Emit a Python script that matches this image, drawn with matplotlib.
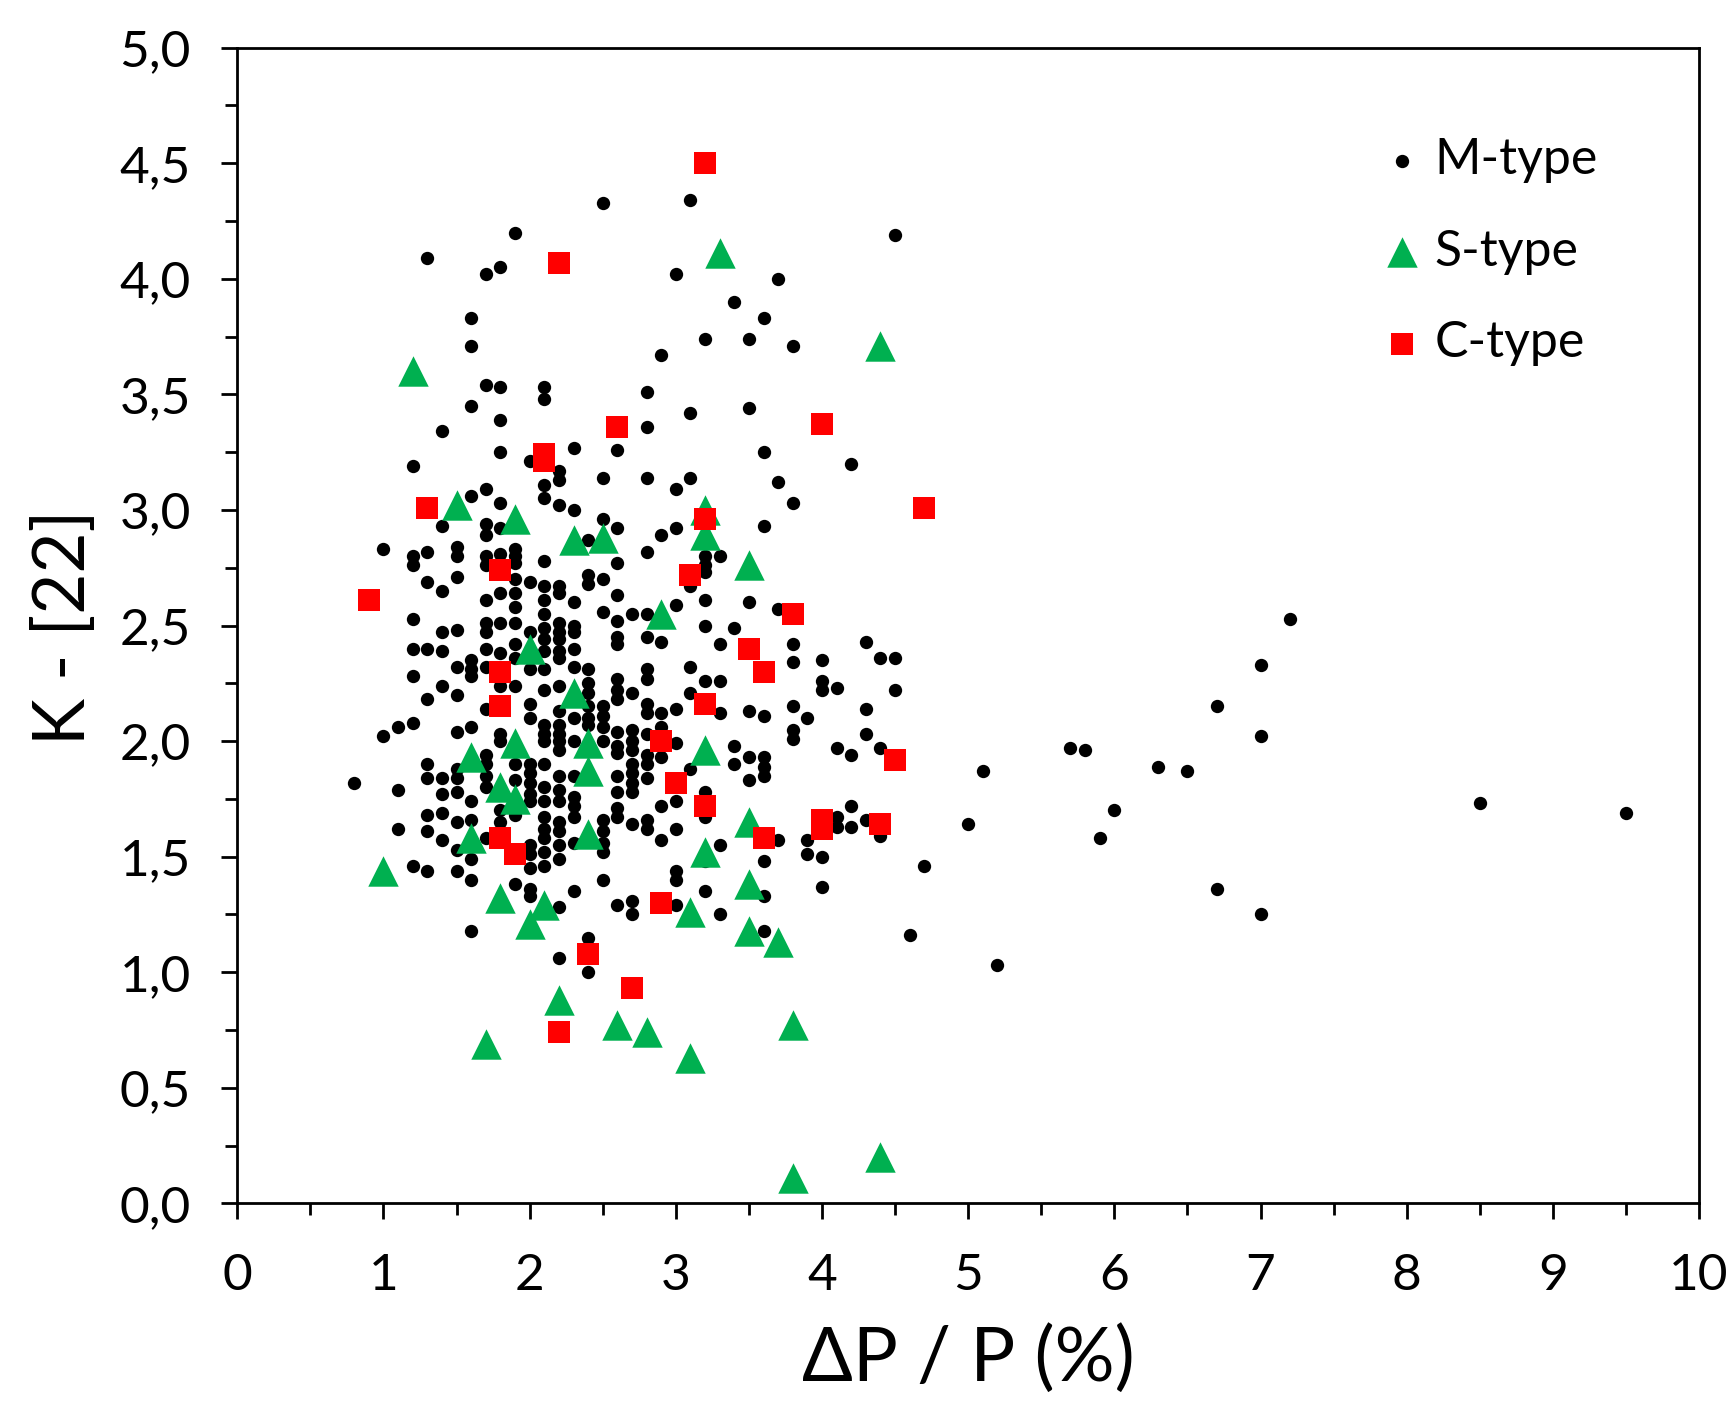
import matplotlib.pyplot as plt
from matplotlib.ticker import MultipleLocator, FuncFormatter

plt.rcParams['font.family'] = ['Lato', 'DejaVu Sans']

# M-type points, one line per DeltaP/P column
m_x = [0.8,
       1.0, 1.0,
       1.1, 1.1, 1.1,
       1.2, 1.2, 1.2, 1.2, 1.2, 1.2, 1.2, 1.2,
       1.3, 1.3, 1.3, 1.3, 1.3, 1.3, 1.3, 1.3, 1.3, 1.3,
       1.4, 1.4, 1.4, 1.4, 1.4, 1.4, 1.4, 1.4, 1.4, 1.4,
       1.5, 1.5, 1.5, 1.5, 1.5, 1.5, 1.5, 1.5, 1.5, 1.5, 1.5, 1.5, 1.5,
       1.6, 1.6, 1.6, 1.6, 1.6, 1.6, 1.6, 1.6, 1.6, 1.6, 1.6, 1.6, 1.6,
       1.7, 1.7, 1.7, 1.7, 1.7, 1.7, 1.7, 1.7, 1.7, 1.7, 1.7, 1.7, 1.7, 1.7, 1.7, 1.7, 1.7, 1.7,
       1.8, 1.8, 1.8, 1.8, 1.8, 1.8, 1.8, 1.8, 1.8, 1.8, 1.8, 1.8, 1.8, 1.8, 1.8,
       1.9, 1.9, 1.9, 1.9, 1.9, 1.9, 1.9, 1.9, 1.9, 1.9, 1.9, 1.9, 1.9, 1.9, 1.9,
       2.0, 2.0, 2.0, 2.0, 2.0, 2.0, 2.0, 2.0, 2.0, 2.0, 2.0, 2.0, 2.0, 2.0, 2.0, 2.0,
       2.1, 2.1, 2.1, 2.1, 2.1, 2.1, 2.1, 2.1, 2.1, 2.1, 2.1, 2.1, 2.1, 2.1, 2.1, 2.1, 2.1, 2.1, 2.1, 2.1, 2.1, 2.1, 2.1, 2.1,
       2.2, 2.2, 2.2, 2.2, 2.2, 2.2, 2.2, 2.2, 2.2, 2.2, 2.2, 2.2, 2.2, 2.2, 2.2, 2.2, 2.2, 2.2, 2.2, 2.2, 2.2, 2.2, 2.2, 2.2, 2.2,
       2.3, 2.3, 2.3, 2.3, 2.3, 2.3, 2.3, 2.3, 2.3, 2.3, 2.3, 2.3, 2.3, 2.3, 2.3,
       2.4, 2.4, 2.4, 2.4, 2.4, 2.4, 2.4, 2.4, 2.4, 2.4, 2.4,
       2.5, 2.5, 2.5, 2.5, 2.5, 2.5, 2.5, 2.5, 2.5, 2.5, 2.5, 2.5, 2.5, 2.5,
       2.6, 2.6, 2.6, 2.6, 2.6, 2.6, 2.6, 2.6, 2.6, 2.6, 2.6, 2.6, 2.6, 2.6, 2.6, 2.6, 2.6, 2.6,
       2.7, 2.7, 2.7, 2.7, 2.7, 2.7, 2.7, 2.7, 2.7, 2.7, 2.7, 2.7,
       2.8, 2.8, 2.8, 2.8, 2.8, 2.8, 2.8, 2.8, 2.8, 2.8, 2.8, 2.8, 2.8, 2.8, 2.8, 2.8,
       2.9, 2.9, 2.9, 2.9, 2.9, 2.9, 2.9, 2.9,
       3.0, 3.0, 3.0, 3.0, 3.0, 3.0, 3.0, 3.0, 3.0, 3.0, 3.0,
       3.1, 3.1, 3.1, 3.1, 3.1, 3.1, 3.1,
       3.2, 3.2, 3.2, 3.2, 3.2, 3.2, 3.2, 3.2, 3.2, 3.2, 3.2,
       3.3, 3.3, 3.3, 3.3, 3.3, 3.3,
       3.4, 3.4, 3.4, 3.4,
       3.5, 3.5, 3.5, 3.5, 3.5, 3.5,
       3.6, 3.6, 3.6, 3.6, 3.6, 3.6, 3.6, 3.6, 3.6, 3.6,
       3.7, 3.7, 3.7, 3.7,
       3.8, 3.8, 3.8, 3.8, 3.8, 3.8, 3.8,
       3.9, 3.9, 3.9,
       4.0, 4.0, 4.0, 4.0, 4.0,
       4.1, 4.1, 4.1, 4.1,
       4.2, 4.2, 4.2, 4.2,
       4.3, 4.3, 4.3, 4.3,
       4.4, 4.4, 4.4,
       4.5, 4.5, 4.5,
       4.6, 4.7, 5.0, 5.1, 5.2, 5.7, 5.8, 5.9, 6.0, 6.3, 6.5,
       6.7, 6.7,
       7.0, 7.0, 7.0,
       7.2, 8.5, 9.5]
m_y = [1.82,
       2.83, 2.02,
       2.06, 1.79, 1.62,
       3.19, 2.80, 2.76, 2.53, 2.40, 2.28, 2.08, 1.46,
       4.09, 2.82, 2.69, 2.40, 2.18, 1.90, 1.84, 1.68, 1.61, 1.44,
       3.34, 2.93, 2.65, 2.47, 2.39, 2.24, 1.84, 1.77, 1.69, 1.57,
       2.84, 2.80, 2.71, 2.48, 2.32, 2.20, 2.04, 1.88, 1.84, 1.78, 1.65, 1.53, 1.44,
       3.83, 3.71, 3.45, 3.06, 2.35, 2.31, 2.28, 2.06, 1.74, 1.66, 1.49, 1.40, 1.18,
       4.02, 3.54, 3.09, 2.94, 2.89, 2.80, 2.76, 2.61, 2.51, 2.47, 2.40, 2.32, 2.14, 1.94, 1.90, 1.85, 1.80, 1.58,
       4.05, 3.53, 3.39, 3.25, 3.03, 2.92, 2.81, 2.64, 2.51, 2.38, 2.24, 2.03, 2.00, 1.70, 1.65,
       4.20, 2.83, 2.80, 2.77, 2.70, 2.64, 2.58, 2.51, 2.42, 2.36, 2.24, 1.90, 1.83, 1.68, 1.38,
       3.21, 2.69, 2.47, 2.31, 2.16, 2.10, 1.90, 1.86, 1.82, 1.77, 1.74, 1.55, 1.51, 1.45, 1.36, 1.33,
       3.53, 3.48, 3.11, 3.05, 2.78, 2.67, 2.61, 2.55, 2.49, 2.44, 2.39, 2.31, 2.22, 2.07, 2.03, 2.00, 1.90, 1.80, 1.74, 1.67, 1.62, 1.58, 1.52, 1.46,
       3.17, 3.13, 3.02, 2.67, 2.64, 2.51, 2.47, 2.44, 2.39, 2.36, 2.24, 2.13, 2.07, 2.03, 2.00, 1.96, 1.85, 1.79, 1.74, 1.65, 1.61, 1.55, 1.49, 1.28, 1.06,
       3.27, 3.00, 2.60, 2.50, 2.47, 2.40, 2.32, 2.10, 2.00, 1.85, 1.76, 1.72, 1.67, 1.56, 1.35,
       2.87, 2.72, 2.68, 2.31, 2.25, 2.21, 2.15, 2.10, 2.07, 1.15, 1.00,
       4.33, 3.14, 2.96, 2.70, 2.56, 2.15, 2.11, 2.06, 2.00, 1.66, 1.61, 1.56, 1.52, 1.40,
       3.26, 2.92, 2.77, 2.63, 2.52, 2.45, 2.42, 2.27, 2.22, 2.18, 2.04, 1.98, 1.95, 1.85, 1.78, 1.71, 1.67, 1.29,
       2.55, 2.21, 2.05, 2.00, 1.96, 1.90, 1.86, 1.82, 1.78, 1.64, 1.31, 1.25,
       3.51, 3.36, 3.14, 2.82, 2.55, 2.45, 2.31, 2.27, 2.16, 2.12, 2.03, 1.94, 1.90, 1.84, 1.66, 1.62,
       3.67, 2.89, 2.43, 2.12, 2.06, 1.93, 1.72, 1.57,
       4.02, 3.09, 2.92, 2.59, 2.14, 1.99, 1.74, 1.62, 1.44, 1.40, 1.29,
       4.34, 3.42, 3.14, 2.67, 2.32, 2.21, 1.88,
       3.74, 2.80, 2.76, 2.73, 2.61, 2.50, 2.26, 1.78, 1.67, 1.48, 1.35,
       2.80, 2.42, 2.26, 2.12, 1.55, 1.25,
       3.90, 2.49, 1.98, 1.90,
       3.74, 3.44, 2.60, 2.13, 1.93, 1.83,
       3.83, 3.25, 2.93, 2.11, 1.93, 1.89, 1.85, 1.48, 1.33, 1.18,
       4.00, 3.12, 2.57, 1.57,
       3.71, 3.03, 2.42, 2.34, 2.15, 2.05, 2.01,
       2.10, 1.57, 1.51,
       2.35, 2.26, 2.22, 1.50, 1.37,
       2.23, 1.97, 1.67, 1.63,
       3.20, 1.94, 1.72, 1.63,
       2.43, 2.14, 2.03, 1.66,
       2.36, 1.97, 1.59,
       4.19, 2.36, 2.22,
       1.16, 1.46, 1.64, 1.87, 1.03, 1.97, 1.96, 1.58, 1.70, 1.89, 1.87,
       2.15, 1.36,
       2.33, 2.02, 1.25,
       2.53, 1.73, 1.69]

# S-type points
s_x = [1.2, 3.3, 4.4, 1.5, 1.9, 2.3, 2.5, 3.2, 3.2, 3.5,
       2.9, 2.0, 2.3, 2.4, 2.4, 3.2, 1.6, 1.9, 1.8, 1.9,
       1.6, 2.4, 3.5, 3.2, 1.0, 1.8, 2.1, 2.0, 3.1, 3.5,
       3.5, 3.7, 2.2, 1.7, 2.6, 2.8, 3.1, 3.8, 3.8, 4.4]
s_y = [3.60, 4.11, 3.71, 3.02, 2.96, 2.87, 2.88, 3.00, 2.89, 2.76,
       2.55, 2.40, 2.21, 1.99, 1.87, 1.96, 1.93, 1.99, 1.80, 1.75,
       1.58, 1.60, 1.65, 1.52, 1.44, 1.32, 1.29, 1.21, 1.26, 1.38,
       1.18, 1.13, 0.88, 0.69, 0.77, 0.74, 0.63, 0.77, 0.11, 0.20]

# C-type points
c_x = [3.2, 2.2, 2.6, 4.0, 2.1, 2.1, 1.3, 4.7, 3.2, 1.8,
       3.1, 0.9, 3.8, 3.5, 1.8, 3.6, 1.8, 3.2, 2.9, 4.5,
       3.0, 3.2, 4.0, 4.0, 4.4, 1.8, 3.6, 1.9, 2.9, 2.4,
       2.7, 2.2]
c_y = [4.50, 4.07, 3.36, 3.37, 3.24, 3.21, 3.01, 3.01, 2.96, 2.74,
       2.72, 2.61, 2.55, 2.40, 2.30, 2.30, 2.15, 2.16, 2.00, 1.92,
       1.82, 1.72, 1.66, 1.62, 1.64, 1.58, 1.58, 1.51, 1.30, 1.08,
       0.93, 0.74]

assert len(m_x) == len(m_y)

fig = plt.figure(figsize=(17.36, 14.16), dpi=100)
ax = fig.add_axes([0.1367, 0.1502, 0.842, 0.8161])

ax.scatter(m_x, m_y, s=92, marker='o', color='black', linewidths=0, label='M-type', zorder=3)
ax.scatter(s_x, s_y, s=480, marker='^', color='#00B050', linewidths=0, label='S-type', zorder=4)
ax.scatter(c_x, c_y, s=265, marker='s', color='#FF0000', linewidths=0, label='C-type', zorder=5)

ax.set_xlim(0, 10)
ax.set_ylim(0, 5)
ax.xaxis.set_major_locator(MultipleLocator(1))
ax.xaxis.set_minor_locator(MultipleLocator(0.5))
ax.yaxis.set_major_locator(MultipleLocator(0.5))
ax.yaxis.set_minor_locator(MultipleLocator(0.25))
ax.yaxis.set_major_formatter(FuncFormatter(lambda v, p: f"{v:.1f}".replace('.', ',')))
ax.xaxis.set_major_formatter(FuncFormatter(lambda v, p: f"{v:.0f}"))

ax.tick_params(which='major', direction='out', length=11.5, width=2, labelsize=37)
ax.tick_params(which='minor', direction='out', length=8.5, width=2)
ax.tick_params(axis='x', pad=24)
ax.tick_params(axis='y', pad=22)
for sp in ax.spines.values():
    sp.set_linewidth(2)

fig.text(0.558, 0.040, 'ΔP / P (%)', fontsize=54, ha='center', va='center')
fig.text(0.037, 0.557, 'K - [22]', fontsize=51, ha='center', va='center', rotation=90)

ax.legend(loc='upper left', bbox_to_anchor=(0.773, 0.94), frameon=False,
          fontsize=36, handlelength=0.6, handletextpad=0.35, labelspacing=0.91,
          borderaxespad=0)

fig.savefig('out.png', dpi=100)
